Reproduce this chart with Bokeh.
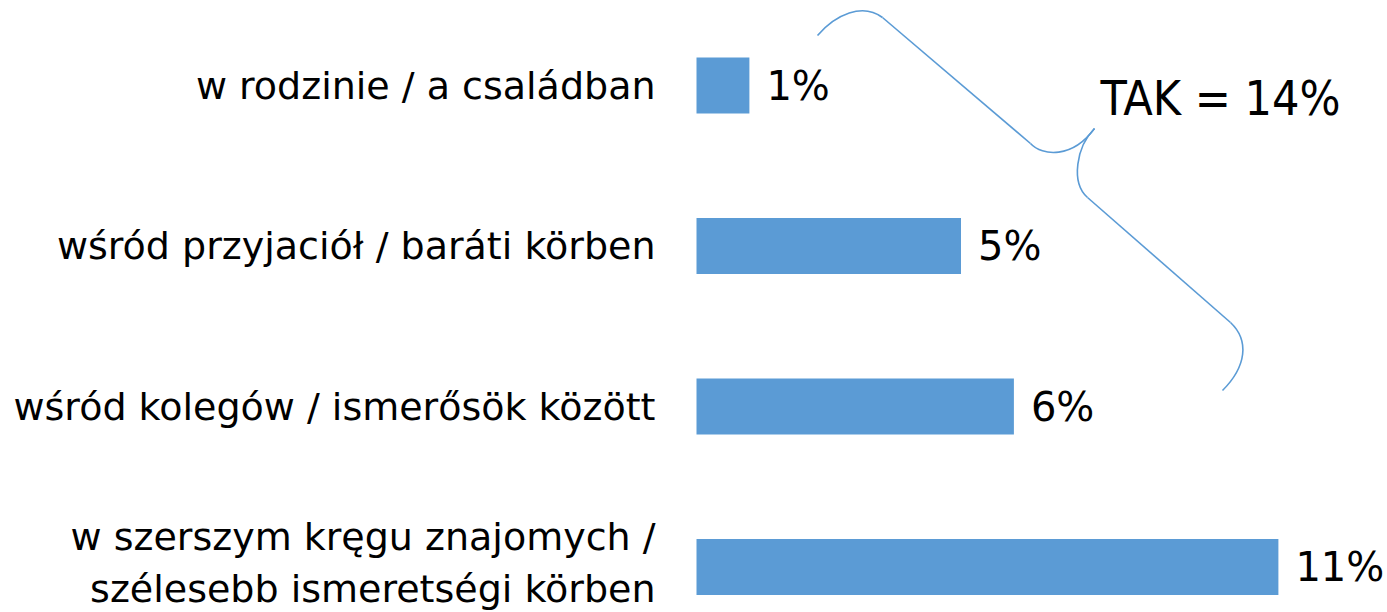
from bokeh.plotting import figure
from bokeh.models import Range1d, ColumnDataSource
from bokeh.core.properties import value
from bokeh.embed import file_html
from bokeh.resources import INLINE

categories = [
    "w rodzinie / a családban",
    "wśród przyjaciół / baráti körben",
    "wśród kolegów / ismerősök között",
    "w szerszym kręgu znajomych /\nszélesebb ismeretségi körben",
]
values = [1, 5, 6, 11]
value_labels = ["1%", "5%", "6%", "11%"]
total_label = "TAK = 14%"

BAR_COLOR = "#5B9BD5"
FONT = "DejaVu Sans"
FONT_TOTAL = "DejaVu Sans Condensed"

W, H = 1387, 612
PX_PER_UNIT = 52.9      # pixels per percentage point
PX_PER_ROW = 160.5      # pixels per category row
X0, Y0 = 696, 85        # picture position of value 0 / first row

def px_x(X):
    return (X - X0) / PX_PER_UNIT

def px_y(Y):
    return (Y - Y0) / PX_PER_ROW

p = figure(width=W, height=H, output_backend="svg", toolbar_location=None,
           x_range=Range1d(px_x(0), px_x(W)),
           y_range=Range1d(px_y(H), px_y(0)),
           min_border=0, outline_line_color=None)
p.axis.visible = False
p.grid.visible = False
p.background_fill_color = "white"
p.border_fill_color = "white"

rows = list(range(len(categories)))
# two-line label is lifted slightly so it stays inside the canvas
label_y = [r - (4 / PX_PER_ROW if "\n" in c else 0) for r, c in zip(rows, categories)]
src = ColumnDataSource(dict(y=rows, ly=label_y, v=values, cat=categories, lab=value_labels,
                            lx=[v + 17 / PX_PER_UNIT for v in values]))

p.hbar(y="y", left=0, right="v", height=56 / PX_PER_ROW, source=src,
       fill_color=BAR_COLOR, line_color=None)

p.text(x=px_x(655), y="ly", text="cat", source=src, text_align="right",
       text_baseline="middle", text_font=value(FONT), text_font_size="38px",
       text_color="black", text_line_height=1.17)

p.text(x="lx", y="y", text="lab", source=src, text_align="left",
       text_baseline="middle", text_font=value(FONT), text_font_size="40px",
       text_color="black")

p.text(x=[px_x(1100)], y=[px_y(97)], text=[total_label], text_align="left",
       text_baseline="middle", text_font=value(FONT_TOTAL), text_font_size="48px",
       text_color="black")

# curly brace grouping the answers (decoration)
curves = [
    ((817, 35), (835, 14), (862, 2), (882, 17)),
    ((1030, 143), (1042, 156), (1072, 158), (1094, 128)),
    ((1094, 128), (1076, 146), (1070, 182), (1087, 197)),
    ((1230, 322), (1249, 340), (1246, 366), (1222, 390)),
]
p.bezier(x0=[px_x(c[0][0]) for c in curves], y0=[px_y(c[0][1]) for c in curves],
         cx0=[px_x(c[1][0]) for c in curves], cy0=[px_y(c[1][1]) for c in curves],
         cx1=[px_x(c[2][0]) for c in curves], cy1=[px_y(c[2][1]) for c in curves],
         x1=[px_x(c[3][0]) for c in curves], y1=[px_y(c[3][1]) for c in curves],
         line_color=BAR_COLOR, line_width=1.6)
segs = [((882, 17), (1030, 143)), ((1087, 197), (1230, 322))]
p.segment(x0=[px_x(s[0][0]) for s in segs], y0=[px_y(s[0][1]) for s in segs],
          x1=[px_x(s[1][0]) for s in segs], y1=[px_y(s[1][1]) for s in segs],
          line_color=BAR_COLOR, line_width=1.6)

open("out.html", "w").write(file_html(p, INLINE))
